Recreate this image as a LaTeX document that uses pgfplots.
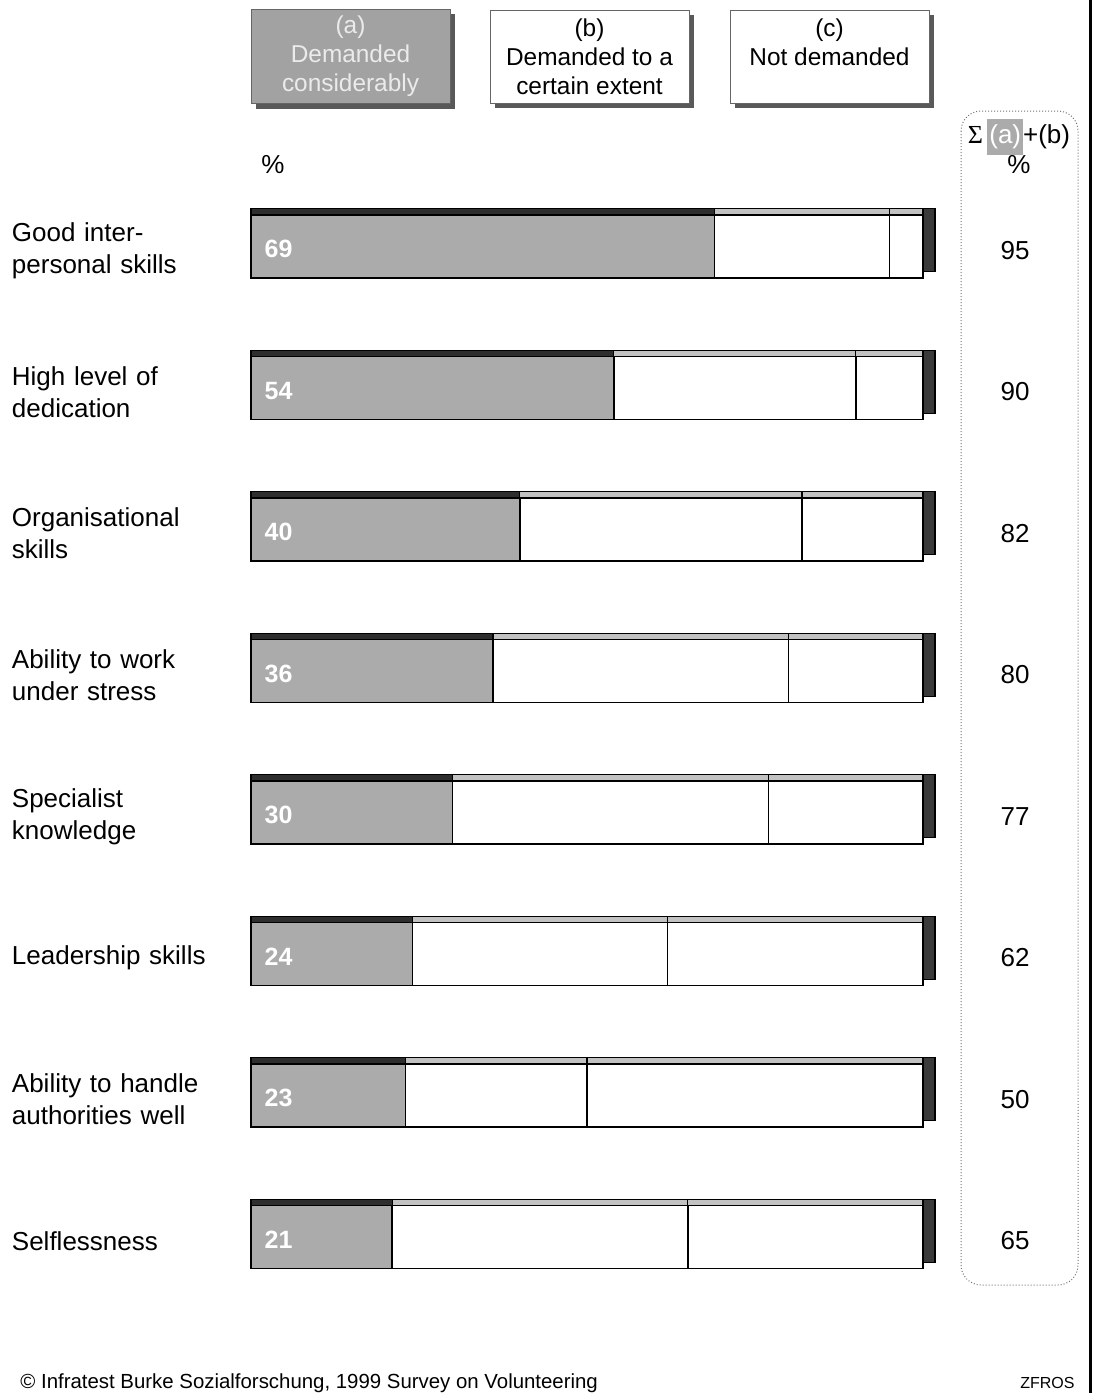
\documentclass[border=0pt]{standalone}
\usepackage{pgfplots}
\pgfplotsset{compat=1.18}
\usepackage{pgfplotstable}
\usepackage{fontspec}
\setmainfont{Liberation Sans}
\usetikzlibrary{shadows}

\definecolor{barA}{HTML}{ABABAB}
\definecolor{topA}{HTML}{2E2E2E}
\definecolor{topB}{HTML}{C2C2C2}
\definecolor{sideC}{HTML}{3A3A3A}

% a = demanded considerably, b = to a certain extent, c = not demanded
\pgfplotstableread{
y a b c sum
0 69 26 5 95
1 54 36 10 90
2 40 42 18 82
3 36 44 20 80
4 30 47 23 77
5 24 38 38 62
6 23 27 50 50
7 21 44 35 65
}\skills

\pgfplotsset{
  skillframe/.style={
    scale only axis, width=336pt, height=566pt,
    xmin=0, xmax=100, ymin=-0.5, ymax=7.5, y dir=reverse,
    axis line style={draw=none}, tick style={draw=none},
    xtick=\empty, ytick=\empty,
    anchor=north west, clip=false,
    /pgf/number format/assume math mode=true,
  },
  skillbars/.style={skillframe, xbar stacked, bar width=31.5pt},
}

\begin{document}
\begin{tikzpicture}
\path[use as bounding box] (0,0) rectangle (548pt,-696.5pt);

% right side of the bars
\begin{axis}[skillbars, at={(131.5pt,-84.8pt)}]
\addplot[fill=sideC, draw=black, line width=0.6pt] table[x expr=100, y=y] {\skills};
\end{axis}
% top faces
\begin{axis}[skillbars, at={(125.5pt,-84.8pt)}]
\addplot[fill=topA, draw=black, line width=0.6pt] table[x=a, y=y] {\skills};
\addplot[fill=topB, draw=black, line width=0.6pt] table[x=b, y=y] {\skills};
\addplot[fill=topB, draw=black, line width=0.6pt] table[x=c, y=y] {\skills};
\end{axis}
% front faces
\begin{axis}[skillbars, at={(125.5pt,-87.8pt)}]
\addplot[fill=barA, draw=black, line width=0.75pt] table[x=a, y=y] {\skills};
\addplot[fill=white, draw=black, line width=0.75pt] table[x=b, y=y] {\skills};
\addplot[fill=white, draw=black, line width=0.75pt] table[x=c, y=y] {\skills};
\end{axis}
% labels
\begin{axis}[skillframe, at={(125.5pt,-87.8pt)},
  ytick={0,...,7},
  yticklabels={{Good inter-\\personal skills},{High level of\\dedication},
    {Organisational\\skills},{Ability to work\\under stress},{Specialist\\knowledge},
    {Leadership skills},{Ability to handle\\authorities well},{Selflessness}},
  yticklabel style={text width=116pt, align=left, yshift=-2pt,
    font=\fontsize{13}{16}\selectfont},
]
\addplot[only marks, mark=none, nodes near coords, point meta=explicit,
  nodes near coords style={anchor=west, xshift=3.3pt, yshift=-1.5pt, text=white,
    font=\fontsize{12.5}{14}\selectfont\bfseries}]
  table[x expr=0, y=y, meta=a] {\skills};
\addplot[only marks, mark=none, nodes near coords, point meta=explicit,
  nodes near coords style={anchor=center, yshift=-2pt, text=black,
    font=\fontsize{13}{15}\selectfont}]
  table[x expr=113.7, y=y, meta=sum] {\skills};
\end{axis}

% legend boxes
\tikzset{legbox/.style={draw=black!60, line width=0.5pt, minimum width=99.5pt, minimum height=46.5pt,
  align=center, font=\fontsize{12.2}{14.5}\selectfont,
  drop shadow={shadow xshift=2.5pt, shadow yshift=-2.5pt, fill=black!65, opacity=1}}}
\node[legbox, fill=barA!95!black, text=white!92!black] at (175.25pt,-28.25pt) {(a)\\Demanded\\considerably};
\node[legbox, fill=white] at (294.75pt,-28.25pt) {(b)\\Demanded to a\\certain extent};
\node[legbox, fill=white] at (414.75pt,-28.25pt) {(c)\\Not demanded\\\mbox{}};

\node[font=\fontsize{13}{15}\selectfont] at (136.5pt,-82.5pt) {\%};

% sum panel
\draw[black!55, densely dotted, line width=0.5pt, rounded corners=10pt] (480.5pt,-55.5pt) rectangle (539pt,-642.5pt);
\node[font=\fontsize{13}{15}\selectfont, inner sep=0pt] at (509.5pt,-68.5pt)
  {\fontspec{Liberation Serif}Σ\,\fontspec{Liberation Sans}\colorbox{barA}{\hspace{-2pt}\textcolor{white}{(a)}\hspace{-2pt}}+(b)};
\node[font=\fontsize{13}{15}\selectfont] at (509.5pt,-82.5pt) {\%};

\draw[black, line width=1.5pt] (545pt,0) -- (545pt,-696.5pt);

\node[anchor=base west, inner sep=0pt, font=\fontsize{10.2}{12}\selectfont] at (10pt,-694pt)
  {© Infratest Burke Sozialforschung, 1999 Survey on Volunteering};
\node[anchor=base east, inner sep=0pt, font=\fontsize{8}{10}\selectfont] at (537.5pt,-694pt) {ZFROS};
\end{tikzpicture}
\end{document}
